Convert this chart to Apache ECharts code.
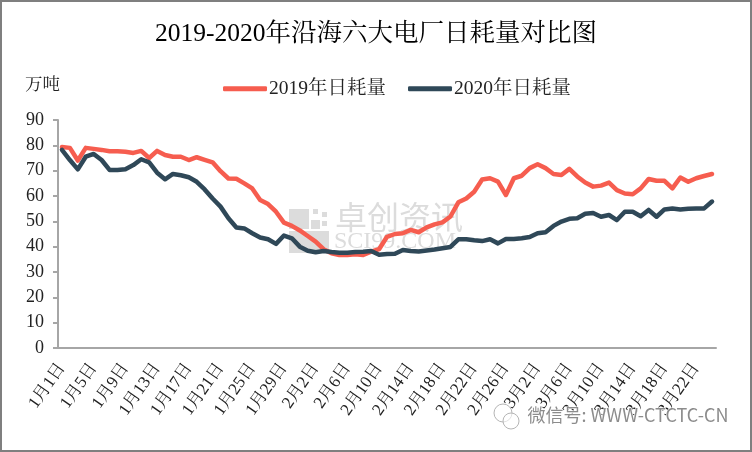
<!DOCTYPE html>
<html>
<head>
<meta charset="utf-8">
<style>
html, body { margin: 0; padding: 0; background: #fff; }
#chart { width: 752px; height: 452px; }
</style>
<script src="https://cdn.jsdelivr.net/npm/echarts@6/dist/echarts.min.js"></script>
</head>
<body>
<div id="chart"></div>
<script>
var FONT = '"Liberation Serif", "Noto Serif CJK SC", "Noto Sans CJK SC", serif';

var categories = [
    '1月1日', '1月2日', '1月3日', '1月4日', '1月5日', '1月6日', '1月7日', '1月8日', '1月9日', '1月10日',
    '1月11日', '1月12日', '1月13日', '1月14日', '1月15日', '1月16日', '1月17日', '1月18日', '1月19日', '1月20日',
    '1月21日', '1月22日', '1月23日', '1月24日', '1月25日', '1月26日', '1月27日', '1月28日', '1月29日', '1月30日', '1月31日',
    '2月1日', '2月2日', '2月3日', '2月4日', '2月5日', '2月6日', '2月7日', '2月8日', '2月9日', '2月10日',
    '2月11日', '2月12日', '2月13日', '2月14日', '2月15日', '2月16日', '2月17日', '2月18日', '2月19日', '2月20日',
    '2月21日', '2月22日', '2月23日', '2月24日', '2月25日', '2月26日', '2月27日', '2月28日',
    '3月1日', '3月2日', '3月3日', '3月4日', '3月5日', '3月6日', '3月7日', '3月8日', '3月9日', '3月10日',
    '3月11日', '3月12日', '3月13日', '3月14日', '3月15日', '3月16日', '3月17日', '3月18日', '3月19日', '3月20日',
    '3月21日', '3月22日', '3月23日', '3月24日'
];

var values2019 = [
    79.3, 79, 74, 79, 78.6, 78.2, 77.7, 77.7, 77.5, 77,
    77.8, 75, 77.8, 76.2, 75.5, 75.5, 74.2, 75.3, 74.3, 73.3,
    69.8, 66.9, 66.8, 65, 63, 58.4, 56.8, 53.8, 49.5, 48.2,
    46.4, 44.2, 42, 39, 37.4, 36.7, 36.7, 37, 36.7, 38,
    39, 43.9, 45, 45.3, 46.6, 45.7, 47.6, 48.8, 49.6, 51.9,
    57.5, 59, 61.7, 66.5, 67, 65.7, 60.4, 67, 68, 71,
    72.5, 71, 68.7, 68.3, 70.7, 67.7, 65.3, 63.7, 64.1, 65.3,
    62.3, 61, 60.7, 63, 66.7, 66, 66, 63, 67.3, 65.6,
    67, 67.9, 68.7
];

var values2020 = [
    78.2, 74.2, 70.5, 75.5, 76.6, 74.2, 70.3, 70.3, 70.6, 72.2,
    74.5, 73.3, 69.2, 66.6, 68.7, 68.2, 67.4, 65.6, 62.6, 59,
    55.8, 51.2, 47.6, 47.2, 45.3, 43.6, 42.9, 41.1, 44.4, 43.3,
    40, 38.4, 37.8, 38.3, 37.9, 37.6, 37.6, 37.9, 38, 38.3,
    36.8, 37.1, 37.2, 38.7, 38.3, 38.1, 38.5, 38.9, 39.4, 39.9,
    42.9, 42.9, 42.5, 42.2, 42.9, 41.3, 43, 43, 43.3, 43.8,
    45.3, 45.7, 48.2, 49.9, 51, 51.2, 53, 53.3, 51.8, 52.5,
    50.5, 53.8, 53.8, 52, 54.5, 51.8, 54.7, 55.1, 54.7, 55,
    55.1, 55.1, 57.8
];

var seriesNames = ['2019年日耗量', '2020年日耗量'];
var seriesColors = ['#f65d4f', '#2f4858'];

var myChart = echarts.init(document.getElementById('chart'));

var wmGray = '#dcdcdc';
var option = {
    animation: false,
    backgroundColor: '#fff',
    textStyle: { fontFamily: FONT },
    title: {
        text: '2019-2020年沿海六大电厂日耗量对比图',
        left: 'center',
        top: 17,
        textStyle: { fontFamily: FONT, fontSize: 25.5, fontWeight: 'normal', color: '#000' }
    },
    legend: {
        left: 218,
        top: 74,
        icon: 'roundRect',
        itemWidth: 44,
        itemHeight: 5,
        itemGap: 22,
        data: seriesNames,
        textStyle: { fontFamily: FONT, fontSize: 19.5, color: '#222', padding: [0, 0, 0, -3] }
    },
    grid: { left: 58, right: 36, top: 120, bottom: 104 },
    xAxis: {
        type: 'category',
        data: categories,
        boundaryGap: true,
        axisLine: { lineStyle: { color: '#a6a6a6', width: 2 } },
        axisTick: { interval: 3, length: 5, lineStyle: { color: '#a6a6a6', width: 2 } },
        axisLabel: { interval: 3, rotate: 55, margin: 17, fontSize: 17, color: '#222', fontFamily: FONT }
    },
    yAxis: {
        type: 'value',
        min: 0,
        max: 90,
        interval: 10,
        axisLine: { show: true, lineStyle: { color: '#a6a6a6', width: 2 } },
        axisTick: { show: true, length: 5, lineStyle: { color: '#a6a6a6', width: 2 } },
        axisLabel: { margin: 14, fontSize: 18, color: '#222', fontFamily: FONT },
        splitLine: { show: false }
    },
    series: [
        {
            name: seriesNames[0], type: 'line', data: values2019, symbol: 'none',
            itemStyle: { color: seriesColors[0] },
            lineStyle: { color: seriesColors[0], width: 4.5, cap: 'round', join: 'round' }
        },
        {
            name: seriesNames[1], type: 'line', data: values2020, symbol: 'none',
            itemStyle: { color: seriesColors[1] },
            lineStyle: { color: seriesColors[1], width: 4.5, cap: 'round', join: 'round' }
        }
    ],
    graphic: [
        // 外框
        { type: 'rect', silent: true, shape: { x: 1, y: 1, width: 750, height: 450 },
          style: { fill: 'none', stroke: '#7f7f7f', lineWidth: 2 } },
        { type: 'text', left: 25, top: 77, style: { text: '万吨', font: '17.5px ' + FONT, fill: '#222' } },
        // 水印
        { type: 'rect', shape: { x: 289, y: 209, width: 20, height: 20 }, style: { fill: wmGray } },
        { type: 'rect', shape: { x: 289, y: 231, width: 40, height: 22 }, style: { fill: wmGray } },
        { type: 'rect', shape: { x: 311, y: 220, width: 9, height: 9 }, style: { fill: wmGray } },
        { type: 'rect', shape: { x: 313, y: 209, width: 5, height: 5 }, style: { fill: wmGray } },
        { type: 'rect', shape: { x: 322, y: 212, width: 5, height: 5 }, style: { fill: wmGray } },
        { type: 'rect', shape: { x: 322, y: 221, width: 5, height: 5 }, style: { fill: wmGray } },
        { type: 'text', left: 335, top: 201, style: { text: '卓创资讯', font: '32px "Noto Sans CJK SC"', fill: wmGray } },
        { type: 'text', left: 334, top: 230, style: { text: 'SCI99.COM', font: '24px ' + FONT, fill: wmGray } },
        // 公众号水印
        { type: 'circle', z: 10, shape: { cx: 503, cy: 413, r: 9 }, style: { fill: 'rgba(255,255,255,0.6)', stroke: '#b5b5b5', lineWidth: 1 } },
        { type: 'circle', z: 10, shape: { cx: 511, cy: 421, r: 8 }, style: { fill: 'rgba(255,255,255,0.6)', stroke: '#b5b5b5', lineWidth: 1 } },
        { type: 'text', z: 10, left: 527, top: 406, style: { text: '微信号: WWW-CTCTC-CN', font: '18px "Noto Sans CJK SC"', fill: '#8c8c8c', stroke: '#fff', lineWidth: 1 } }
    ]
};
myChart.setOption(option);
</script>
</body>
</html>
